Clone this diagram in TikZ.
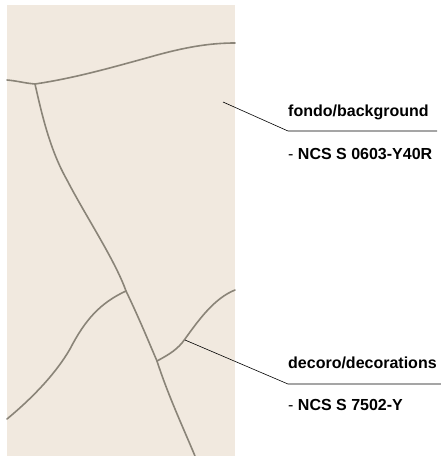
\documentclass[tikz,border=0pt]{standalone}
\usepackage{fontspec}
\setmainfont{Liberation Sans}
\usepackage{xcolor}
\usepackage{tikz}
\usetikzlibrary{arrows}
\definecolor{fondo}{HTML}{F1E9DF}
\definecolor{crack}{HTML}{8A8478}

\begin{document}
\begin{tikzpicture}[x=1pt,y=-1pt]
    \tikzstyle{crackline}=[draw=crack,line width=1.6pt,line cap=round]
    \tikzstyle{leader}=[draw=black,line width=0.6pt]
    \tikzstyle{label}=[anchor=base west,inner sep=0pt,font=\fontsize{16}{19}\selectfont\bfseries]
    \tikzstyle{code}=[anchor=base west,inner sep=0pt,font=\fontsize{16}{19}\selectfont]
\useasboundingbox (0,0) rectangle (441,456);
\fill[fondo] (7,5) rectangle (235,456);

% junctions of the cracks
\coordinate (top) at (35,84);
\coordinate (mid) at (126,291);
\coordinate (low) at (157,361);

\draw[crackline] (7,80) to[out=-5,in=175] (top)
    .. controls (75,78) and (110,68) .. (150,57)
    .. controls (185,47) and (210,43) .. (235,43);
\draw[crackline] (top) .. controls (42,115) and (50,150) .. (67,180)
    .. controls (85,215) and (115,260) .. (mid)
    .. controls (140,320) and (150,345) .. (low)
    .. controls (168,395) and (182,425) .. (195,456);
\draw[crackline] (mid) .. controls (100,303) and (85,320) .. (70,349)
    .. controls (55,375) and (30,400) .. (7,419);
\draw[crackline] (low) .. controls (170,354) and (178,349) .. (185,339)
    .. controls (200,318) and (215,298) .. (235,290);

% fondo
\coordinate (p1) at (223,102);
\coordinate (k1) at (288,131);
\coordinate (e1) at (437,131);
\draw[leader] (p1) -- (k1) -- (e1);
\node[label] (fondo) at (288,116) {fondo/background};
\node[code] (ncs1) at (288,159) {- \textbf{NCS S 0603-Y40R}};

% decoro
\coordinate (p2) at (185,340);
\coordinate (k2) at (288,384);
\coordinate (e2) at (441,384);
\draw[leader] (p2) -- (k2) -- (e2);
\node[label] (decoro) at (288,368) {decoro/decorations};
\node[code] (ncs2) at (288,410) {- \textbf{NCS S 7502-Y}};
    ;
\end{tikzpicture}
\end{document}
